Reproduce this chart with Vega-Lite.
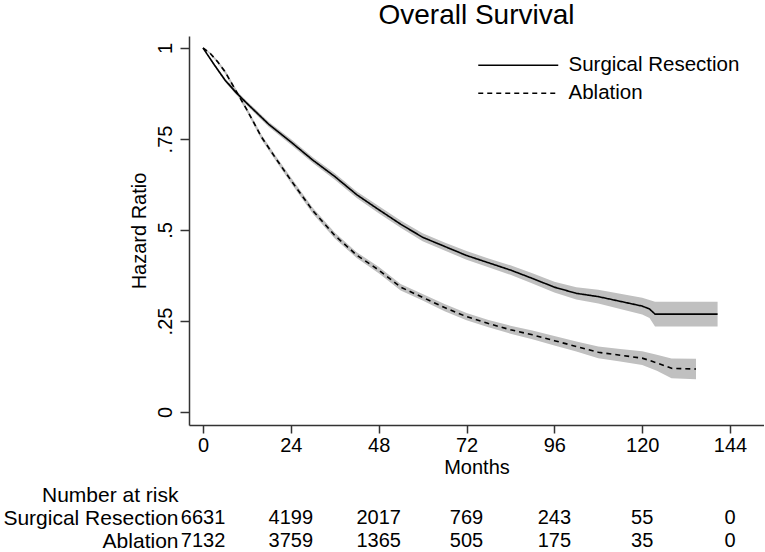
{
  "$schema": "https://vega.github.io/schema/vega-lite/v6.json",
  "padding": {"left": 2, "top": 2, "right": 0, "bottom": 0},
  "config": {
    "font": "Liberation Sans",
    "view": {"stroke": null},
    "axis": {"grid": false, "domainColor": "#333", "tickColor": "#333", "domainWidth": 1.5, "tickWidth": 1.5, "labelColor": "black", "titleColor": "black", "titleFontWeight": "normal"},
    "concat": {"spacing": 7}
  },
  "resolve": {"scale": {"x": "independent", "y": "independent"}},
  "vconcat": [
    {
      "title": {"text": "Overall Survival", "fontSize": 28, "fontWeight": "normal", "anchor": "middle", "offset": 6, "color": "black"},
      "width": 575,
      "height": 389,
      "data": {"values": [
        {"g": "Surgical Resection", "m": 0, "s": 1.0, "lo": 1.0, "hi": 1.0},
        {"g": "Surgical Resection", "m": 3, "s": 0.955, "lo": 0.951, "hi": 0.959},
        {"g": "Surgical Resection", "m": 6, "s": 0.912, "lo": 0.907, "hi": 0.917},
        {"g": "Surgical Resection", "m": 9, "s": 0.878, "lo": 0.872, "hi": 0.884},
        {"g": "Surgical Resection", "m": 12, "s": 0.848, "lo": 0.842, "hi": 0.854},
        {"g": "Surgical Resection", "m": 18, "s": 0.790, "lo": 0.783, "hi": 0.797},
        {"g": "Surgical Resection", "m": 24, "s": 0.742, "lo": 0.734, "hi": 0.750},
        {"g": "Surgical Resection", "m": 30, "s": 0.692, "lo": 0.684, "hi": 0.700},
        {"g": "Surgical Resection", "m": 36, "s": 0.647, "lo": 0.638, "hi": 0.656},
        {"g": "Surgical Resection", "m": 42, "s": 0.597, "lo": 0.588, "hi": 0.606},
        {"g": "Surgical Resection", "m": 48, "s": 0.556, "lo": 0.546, "hi": 0.566},
        {"g": "Surgical Resection", "m": 54, "s": 0.516, "lo": 0.506, "hi": 0.526},
        {"g": "Surgical Resection", "m": 60, "s": 0.480, "lo": 0.469, "hi": 0.491},
        {"g": "Surgical Resection", "m": 66, "s": 0.455, "lo": 0.444, "hi": 0.466},
        {"g": "Surgical Resection", "m": 72, "s": 0.430, "lo": 0.418, "hi": 0.442},
        {"g": "Surgical Resection", "m": 78, "s": 0.410, "lo": 0.398, "hi": 0.422},
        {"g": "Surgical Resection", "m": 84, "s": 0.390, "lo": 0.377, "hi": 0.403},
        {"g": "Surgical Resection", "m": 90, "s": 0.367, "lo": 0.353, "hi": 0.381},
        {"g": "Surgical Resection", "m": 96, "s": 0.343, "lo": 0.328, "hi": 0.358},
        {"g": "Surgical Resection", "m": 102, "s": 0.326, "lo": 0.309, "hi": 0.343},
        {"g": "Surgical Resection", "m": 108, "s": 0.317, "lo": 0.298, "hi": 0.336},
        {"g": "Surgical Resection", "m": 114, "s": 0.304, "lo": 0.283, "hi": 0.325},
        {"g": "Surgical Resection", "m": 120, "s": 0.291, "lo": 0.268, "hi": 0.314},
        {"g": "Surgical Resection", "m": 122, "s": 0.283, "lo": 0.258, "hi": 0.308},
        {"g": "Surgical Resection", "m": 123.5, "s": 0.269, "lo": 0.235, "hi": 0.303},
        {"g": "Surgical Resection", "m": 140.6, "s": 0.269, "lo": 0.235, "hi": 0.303},
        {"g": "Ablation", "m": 0, "s": 1.0, "lo": 1.0, "hi": 1.0},
        {"g": "Ablation", "m": 2, "s": 0.985, "lo": 0.982, "hi": 0.988},
        {"g": "Ablation", "m": 4, "s": 0.962, "lo": 0.958, "hi": 0.966},
        {"g": "Ablation", "m": 6, "s": 0.935, "lo": 0.930, "hi": 0.940},
        {"g": "Ablation", "m": 8, "s": 0.900, "lo": 0.895, "hi": 0.905},
        {"g": "Ablation", "m": 10, "s": 0.865, "lo": 0.859, "hi": 0.871},
        {"g": "Ablation", "m": 12, "s": 0.830, "lo": 0.824, "hi": 0.836},
        {"g": "Ablation", "m": 16, "s": 0.755, "lo": 0.748, "hi": 0.762},
        {"g": "Ablation", "m": 20, "s": 0.695, "lo": 0.688, "hi": 0.702},
        {"g": "Ablation", "m": 24, "s": 0.637, "lo": 0.629, "hi": 0.645},
        {"g": "Ablation", "m": 30, "s": 0.553, "lo": 0.545, "hi": 0.561},
        {"g": "Ablation", "m": 36, "s": 0.485, "lo": 0.477, "hi": 0.493},
        {"g": "Ablation", "m": 42, "s": 0.431, "lo": 0.423, "hi": 0.439},
        {"g": "Ablation", "m": 48, "s": 0.390, "lo": 0.381, "hi": 0.399},
        {"g": "Ablation", "m": 54, "s": 0.343, "lo": 0.334, "hi": 0.352},
        {"g": "Ablation", "m": 60, "s": 0.315, "lo": 0.306, "hi": 0.324},
        {"g": "Ablation", "m": 66, "s": 0.287, "lo": 0.277, "hi": 0.297},
        {"g": "Ablation", "m": 72, "s": 0.262, "lo": 0.252, "hi": 0.272},
        {"g": "Ablation", "m": 78, "s": 0.243, "lo": 0.233, "hi": 0.253},
        {"g": "Ablation", "m": 84, "s": 0.226, "lo": 0.215, "hi": 0.237},
        {"g": "Ablation", "m": 90, "s": 0.212, "lo": 0.200, "hi": 0.224},
        {"g": "Ablation", "m": 96, "s": 0.196, "lo": 0.183, "hi": 0.209},
        {"g": "Ablation", "m": 102, "s": 0.180, "lo": 0.166, "hi": 0.194},
        {"g": "Ablation", "m": 108, "s": 0.164, "lo": 0.148, "hi": 0.180},
        {"g": "Ablation", "m": 114, "s": 0.156, "lo": 0.139, "hi": 0.173},
        {"g": "Ablation", "m": 120, "s": 0.148, "lo": 0.129, "hi": 0.167},
        {"g": "Ablation", "m": 124, "s": 0.135, "lo": 0.113, "hi": 0.157},
        {"g": "Ablation", "m": 128, "s": 0.120, "lo": 0.093, "hi": 0.147},
        {"g": "Ablation", "m": 134.7, "s": 0.118, "lo": 0.090, "hi": 0.146}
      ]},
      "encoding": {
        "x": {"field": "m", "type": "quantitative",
              "scale": {"domain": [-3.83, 153.28], "nice": false, "zero": false},
              "axis": {"values": [0, 24, 48, 72, 96, 120, 144], "title": "Months", "labelFontSize": 20, "titleFontSize": 20, "tickSize": 8, "labelPadding": 2, "titlePadding": 2}}
      },
      "layer": [
        {
          "mark": {"type": "area", "color": "#c0c0c0", "opacity": 1},
          "encoding": {
            "y": {"field": "lo", "type": "quantitative",
                  "scale": {"domain": [-0.0357, 1.033], "nice": false, "zero": false},
                  "axis": {"values": [0, 0.25, 0.5, 0.75, 1], "labelExpr": "datum.value == 0 ? '0' : datum.value == 1 ? '1' : datum.value == 0.5 ? '.5' : datum.value == 0.25 ? '.25' : '.75'", "title": "Hazard Ratio", "labelFontSize": 20, "titleFontSize": 20, "labelAngle": -90, "labelAlign": "center", "labelBaseline": "alphabetic", "labelPadding": 9, "tickSize": 9, "titlePadding": 6}},
            "y2": {"field": "hi"},
            "detail": {"field": "g"}
          }
        },
        {
          "mark": {"type": "line", "color": "black", "strokeWidth": 1.6},
          "encoding": {
            "y": {"field": "s", "type": "quantitative"},
            "strokeDash": {"field": "g", "type": "nominal",
              "scale": {"domain": ["Surgical Resection", "Ablation"], "range": [[1, 0], [5, 4]]},
              "legend": {"title": null, "orient": "none", "legendX": 319, "legendY": 19, "symbolType": "M-8,0H8", "symbolSize": 100, "symbolStrokeWidth": 1.6, "symbolStrokeColor": "black", "symbolFillColor": "transparent", "labelFontSize": 20.5, "labelOffset": 40, "labelLimit": 0, "rowPadding": 7, "padding": 0, "labelColor": "black"}}
          }
        }
      ]
    },
    {
      "width": 575,
      "height": 46,
      "data": {"values": [
        {"row": "Surgical Resection", "m": 0, "n": 6631},
        {"row": "Surgical Resection", "m": 24, "n": 4199},
        {"row": "Surgical Resection", "m": 48, "n": 2017},
        {"row": "Surgical Resection", "m": 72, "n": 769},
        {"row": "Surgical Resection", "m": 96, "n": 243},
        {"row": "Surgical Resection", "m": 120, "n": 55},
        {"row": "Surgical Resection", "m": 144, "n": 0},
        {"row": "Ablation", "m": 0, "n": 7132},
        {"row": "Ablation", "m": 24, "n": 3759},
        {"row": "Ablation", "m": 48, "n": 1365},
        {"row": "Ablation", "m": 72, "n": 505},
        {"row": "Ablation", "m": 96, "n": 175},
        {"row": "Ablation", "m": 120, "n": 35},
        {"row": "Ablation", "m": 144, "n": 0}
      ]},
      "mark": {"type": "text", "fontSize": 20, "align": "center", "baseline": "middle", "color": "black"},
      "encoding": {
        "x": {"field": "m", "type": "quantitative", "scale": {"domain": [-3.83, 153.28], "nice": false, "zero": false}, "axis": null},
        "y": {"field": "row", "type": "ordinal",
              "scale": {"type": "point", "domain": ["Number at risk", "Surgical Resection", "Ablation"], "padding": 0},
              "axis": {"title": null, "domain": false, "ticks": false, "labelFontSize": 21, "labelPadding": 11, "labelColor": "black"}},
        "text": {"field": "n", "type": "quantitative"}
      }
    }
  ]
}
